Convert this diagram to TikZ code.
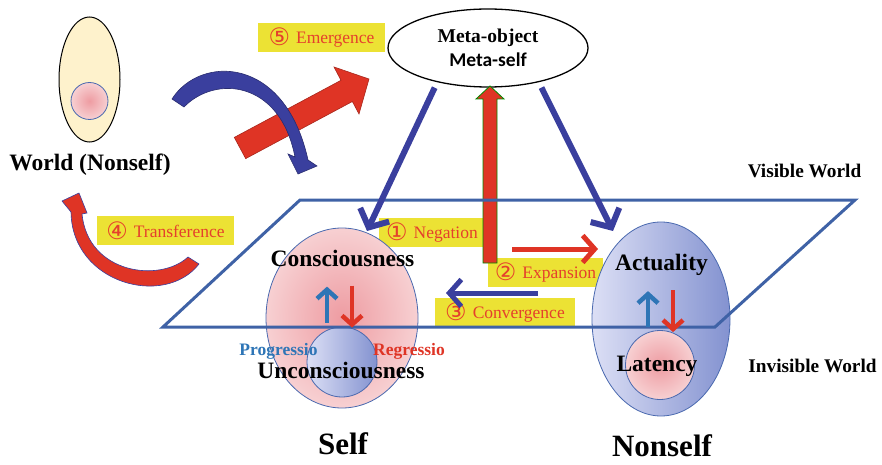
\documentclass[tikz,border=0pt]{standalone}
\usepackage{fontspec}
\setmainfont{Liberation Serif}
\newfontfamily\metafont{Carlito}
\newfontfamily\digitfont{DejaVu Sans}
\usetikzlibrary{arrows.meta,shapes.geometric,calc}

\definecolor{metablue}{HTML}{3A3F9E}
\definecolor{planeblue}{HTML}{3F62A6}
\definecolor{edgeblue}{HTML}{4A69AF}
\definecolor{arrowred}{HTML}{DF3425}
\definecolor{labelyellow}{HTML}{ECE234}
\definecolor{labelred}{HTML}{E5402C}
\definecolor{progblue}{HTML}{2E75B6}
\definecolor{worldfill}{HTML}{FEF2CC}
\definecolor{pinkcore}{HTML}{EE9CA2}
\definecolor{pinkrim}{HTML}{F7D0D2}
\definecolor{lilacleft}{HTML}{DCDFF5}
\definecolor{lilacright}{HTML}{8392D0}

\newcommand\circnum[1]{\raisebox{-1.5pt}{\digitfont\fontsize{24}{24}\selectfont #1}\hspace{6pt}}

\begin{document}
\begin{tikzpicture}[
    x=1pt, y=-1pt,
    stagebox/.style={fill=labelyellow, text=labelred, minimum height=29pt, inner sep=0pt, font=\fontsize{17.5}{20}\selectfont},
    bigword/.style={anchor=base, font=\fontsize{23.5}{26}\selectfont\bfseries},
    smallword/.style={anchor=base, font=\fontsize{19.3}{22}\selectfont\bfseries},
    flowword/.style={anchor=base, font=\fontsize{17.5}{20}\selectfont\bfseries},
    hugeword/.style={anchor=base, font=\fontsize{31}{34}\selectfont\bfseries},
    thinedge/.style={draw=edgeblue, line width=0.8pt},
    metaarrow/.style={metablue, line width=6pt, -{Straight Barb[length=14pt,width=32pt]}},
    flowarrow/.style={line width=5pt, -{Straight Barb[length=12pt,width=27pt]}},
    tinyarrow/.style={line width=4.5pt, -{Straight Barb[length=9pt,width=20pt]}}
]
    \useasboundingbox (0,0) rectangle (882,465);

    % World (Nonself)
    \node [ellipse, draw=black, line width=1pt, fill=worldfill, minimum width=61pt, minimum height=125pt, inner sep=0pt] (world) at (89.5,79.5) {};
    \node [circle, thinedge, inner color=pinkcore, outer color=pinkrim, minimum size=37pt, inner sep=0pt] (worldcore) at (89.5,101) {};

    % Stage labels
    \node [stagebox, minimum width=127pt] (emerge) at (321.5,37.5) {\circnum{⑤}Emergence};
    \node [stagebox, minimum width=137pt] (transfer) at (165.5,230.5) {\circnum{④}Transference};
    \node [stagebox, minimum width=106pt] (negate) at (432,232.5) {\circnum{①}Negation};
    \node [stagebox, minimum width=115pt] (expand) at (545.5,272.5) {\circnum{②}Expansion};
    \node [stagebox, minimum width=140pt] (converge) at (505,312.5) {\circnum{③}Convergence};

    % Emergence: red block arrow, crossed by the blue curve
    \filldraw [fill=arrowred, draw=arrowred!75!black, line width=0.6pt]
        (234.3,137.4) -- (341,80.3) -- (334,67) -- (369,79)
        -- (359,114) -- (352.4,101.5) -- (245.7,158.6) -- cycle;
    \filldraw [fill=metablue, draw=metablue!70!black, line width=0.6pt]
        (172,99) .. controls (200,55) and (285,55) .. (308,160)
        -- (317,166) -- (298,174) -- (288,154) -- (295,157)
        .. controls (280,80) and (215,75) .. (184,107) -- cycle;

    % Transference: red crescent
    \filldraw [fill=arrowred, draw=metablue, line width=0.6pt]
        (199,264) .. controls (165,308) and (72,284) .. (71,212)
        -- (62,201) -- (79,193) -- (87,213) -- (82,214)
        .. controls (88,274) and (160,283) .. (188,257) -- cycle;

    % Meta level
    \node [ellipse, draw=black, line width=1.3pt, fill=white, minimum width=200pt, minimum height=78pt, inner sep=0pt, align=center, font=\fontsize{19.5}{24}\selectfont\bfseries] (meta) at (488,48) {Meta-object\\{\metafont Meta-self}};

    % Rising red arrow
    \filldraw [fill=arrowred, draw=green!55!black, line width=0.8pt]
        (483,263) -- (497,263) -- (497,99) -- (504,99) -- (490,86) -- (476,99) -- (483,99) -- cycle;

    % Self and Nonself
    \node [ellipse, thinedge, inner color=pinkcore, outer color=pinkrim, minimum width=152pt, minimum height=180pt] (self) at (342,318) {};
    \node [circle, thinedge, left color=lilacleft, right color=lilacright, minimum size=70pt, inner sep=0pt] (unc) at (342,362) {};
    \node [ellipse, thinedge, left color=lilacleft, right color=lilacright, minimum width=138pt, minimum height=194pt] (nonself) at (661,319) {};
    \node [circle, thinedge, inner color=pinkcore, outer color=pinkrim, minimum size=69pt, inner sep=0pt] (lat) at (660,365) {};

    % Plane between visible and invisible world
    \draw [planeblue, line width=3pt] (300,200) -- (855,200) -- (715,327) -- (163,327) -- cycle;

    % Arrows from the meta level
    \coordinate (selftip) at (367,231);
    \coordinate (acttip) at (613,231);
    \draw [metaarrow, shorten <=6pt] (meta.214) -- (selftip);
    \draw [metaarrow, shorten <=6pt] (meta.326) -- (acttip);

    % Expansion and convergence
    \coordinate (expfrom) at (512,249);
    \coordinate (expto) at (598,249);
    \coordinate (convfrom) at (538,293);
    \coordinate (convto) at (446,293);
    \draw [flowarrow, arrowred] (expfrom) -- (expto);
    \draw [flowarrow, metablue] (convfrom) -- (convto);

    % Progressio / Regressio
    \draw [tinyarrow, progblue] ($(unc.north)+(-15,-4)$) -- ++(0,-36);
    \draw [tinyarrow, arrowred] ($(unc.north)+(10,-41)$) -- ($(unc.north)+(10,1)$);
    \draw [tinyarrow, progblue] ($(lat.north)+(-12,-3)$) -- ++(0,-36);
    \draw [tinyarrow, arrowred] ($(lat.north)+(13,-40)$) -- ($(lat.north)+(13,2)$);

    % Texts
    \node [bigword] (worldname) at (90,170) {World (Nonself)};
    \node [smallword] (visible) at (804.5,177) {Visible World};
    \node [smallword] (invisible) at (812.5,372) {Invisible World};
    \node [bigword] (conscious) at (342.5,266) {Consciousness};
    \node [flowword, text=progblue] (progress) at (278.5,355) {Progressio};
    \node [flowword, text=arrowred] (regress) at (409,355) {Regressio};
    \node [bigword] (unconscious) at (341,378) {Unconsciousness};
    \node [bigword] (actual) at (661.5,270) {Actuality};
    \node [bigword] (latent) at (657,371) {Latency};
    \node [hugeword] (selfname) at (343,454) {Self};
    \node [hugeword] (nonselfname) at (662,456) {Nonself};

\end{tikzpicture}
\end{document}
